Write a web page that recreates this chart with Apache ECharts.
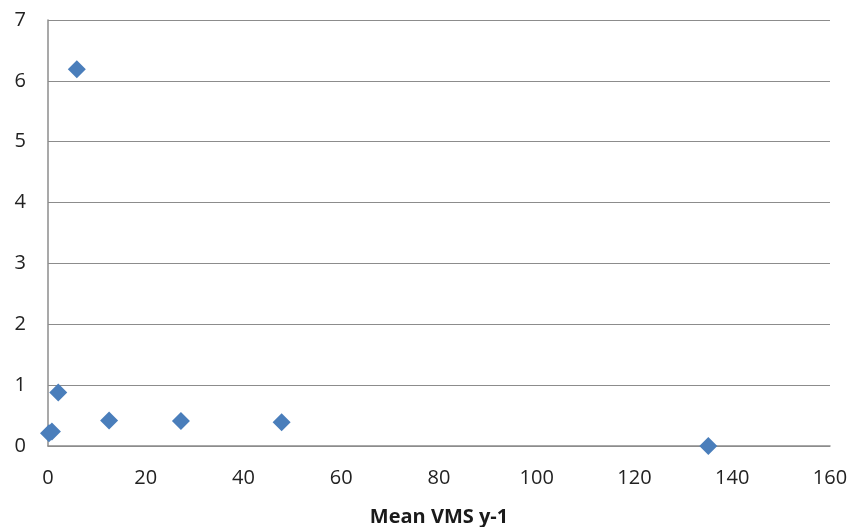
<!DOCTYPE html>
<html>
<head>
<meta charset="utf-8">
<script src="https://cdn.jsdelivr.net/npm/echarts@6/dist/echarts.min.js"></script>
<style>
  html, body { margin: 0; padding: 0; background: #ffffff; }
  #chart { width: 850px; height: 527px; }
</style>
</head>
<body>
<div id="chart"></div>
<script>
// Mean VMS per year (x) against the measured response (y)
const meanVms = [0.2, 0.8, 2.1, 5.9, 12.5, 27.2, 47.8, 135.1];
const response = [0.21, 0.24, 0.88, 6.19, 0.42, 0.41, 0.39, 0.0];
const xAxisTitle = 'Mean VMS y-1';

const points = meanVms.map((x, i) => [x, response[i]]);

const chart = echarts.init(document.getElementById('chart'));
chart.setOption({
  animation: false,
  grid: { left: 48, right: 20, top: 20, bottom: 81, containLabel: false, outerBoundsMode: 'none' },
  xAxis: {
    type: 'value',
    min: 0,
    max: 160,
    interval: 20,
    name: xAxisTitle,
    nameLocation: 'middle',
    nameGap: 61,
    nameTextStyle: { fontFamily: 'Open Sans', fontSize: 20, fontWeight: 'bold', color: '#1a1a1a' },
    axisLine: { show: true, lineStyle: { color: '#8c8c8c', width: 1.5 } },
    axisTick: { show: false },
    splitLine: { show: false },
    axisLabel: { fontFamily: 'Open Sans', fontSize: 20, color: '#222', margin: 22 }
  },
  yAxis: {
    type: 'value',
    min: 0,
    max: 7,
    interval: 1,
    axisLine: { show: true, lineStyle: { color: '#8c8c8c', width: 1.5 } },
    axisTick: { show: false },
    splitLine: { show: true, lineStyle: { color: '#8c8c8c', width: 1 } },
    axisLabel: { fontFamily: 'Open Sans', fontSize: 20, color: '#222', margin: 22 }
  },
  series: [{
    type: 'scatter',
    data: points,
    symbol: 'diamond',
    symbolSize: [18, 18],
    itemStyle: { color: '#4a7ebb', opacity: 1 }
  }]
});
</script>
</body>
</html>
